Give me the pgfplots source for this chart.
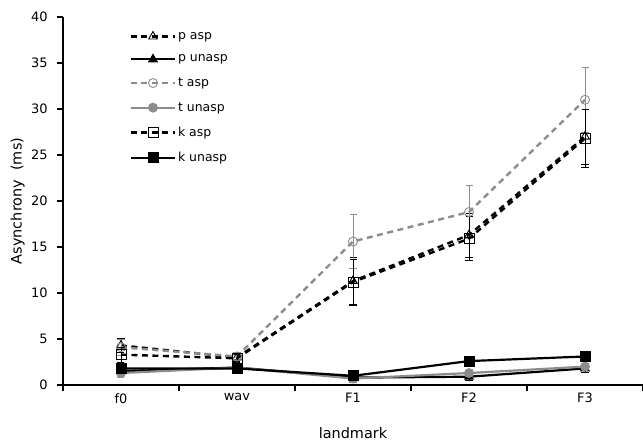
\documentclass[border=0pt]{standalone}
\usepackage{pgfplots}
\pgfplotsset{compat=1.18}
\usepackage{fontspec}
\setmainfont{DejaVu Sans}
\definecolor{mygray}{gray}{0.55}
\begin{document}
\fontsize{12.5}{15}\selectfont
\begin{tikzpicture}
\begin{axis}[
  scale only axis,
  width=580bp, height=368bp,
  xmin=-0.5, xmax=4.5,
  ymin=0, ymax=40,
  axis lines=left,
  axis line style={line width=1.6pt, -},
  xtick={-0.5,0.5,1.5,2.5,3.5,4.5},
  xticklabels={},
  extra x ticks={0,1,2,3,4},
  extra x tick labels={f0,wav,F1,F2,F3},
  extra x tick style={major tick length=0pt, tick style={draw=none}},
  ytick={0,5,...,40},
  tick align=outside,
  major tick length=6bp,
  tick style={line width=1.2pt, black},
  /pgf/number format/assume math mode=true,
  tick label style={font=\fontsize{13}{15}\selectfont},
  xticklabel style={yshift=-4bp},
  yticklabel style={xshift=-5bp},
  xlabel={landmark},
  ylabel={Asynchrony\ \ (ms)},
  label style={font=\fontsize{14.5}{17}\selectfont},
  xlabel style={yshift=-10bp},
  ylabel style={yshift=-2bp},
  legend style={draw=none, fill=none, at={(0.115,0.965)}, anchor=north west,
    font=\fontsize{12.5}{15}\selectfont, row sep=10bp, inner sep=0pt},
  legend cell align=left,
  legend image code/.code={
    \draw[#1, line width=2.2pt, mark repeat=2, mark phase=2] plot coordinates {(0bp,0bp)(22bp,0bp)(44bp,0bp)};
  },
  error bars/y dir=both,
  error bars/y explicit,
  error bars/error bar style={line width=0.8pt, solid},
  error bars/error mark options={rotate=90, mark size=3.5bp, line width=0.8pt},
]
% p asp
\addplot[black, line width=2.4pt, dash pattern=on 6bp off 4.5bp, mark=triangle, mark size=5bp,
  mark options={solid, fill=white, line width=0.9pt}]
  coordinates {(0,4.3) +- (0,0.8) (1,3.0) +- (0,0.4) (2,11.3) +- (0,2.6) (3,16.3) +- (0,2.4) (4,27.0) +- (0,3.0)};
\addlegendentry{p asp}
% p unasp
\addplot[black, line width=2.2pt, mark=triangle*, mark size=5bp,
  mark options={solid, fill=black, line width=0.9pt}]
  coordinates {(0,1.5) +- (0,0.5) (1,1.9) +- (0,0.4) (2,0.8) +- (0,0.4) (3,0.9) +- (0,0.4) (4,1.8) +- (0,0.4)};
\addlegendentry{p unasp}
% t asp
\addplot[mygray, line width=2.4pt, dash pattern=on 6bp off 4.5bp, mark=o, mark size=4.5bp,
  mark options={solid, fill=white, line width=0.9pt}]
  coordinates {(0,4.1) +- (0,0.9) (1,3.1) +- (0,0.4) (2,15.6) +- (0,2.9) (3,18.8) +- (0,2.9) (4,31.0) +- (0,3.5)};
\addlegendentry{t asp}
% t unasp
\addplot[mygray, line width=2.2pt, mark=*, mark size=4.5bp,
  mark options={solid, fill=mygray, line width=0.9pt}]
  coordinates {(0,1.3) +- (0,0.5) (1,1.9) +- (0,0.4) (2,0.7) +- (0,0.4) (3,1.3) +- (0,0.4) (4,2.0) +- (0,0.4)};
\addlegendentry{t unasp}
% k asp
\addplot[black, line width=2.4pt, dash pattern=on 6bp off 4.5bp, mark=square, mark size=5bp,
  mark options={solid, fill=white, fill opacity=0, line width=0.9pt}]
  coordinates {(0,3.3) +- (0,0.8) (1,2.9) +- (0,0.4) (2,11.2) +- (0,2.4) (3,15.9) +- (0,2.4) (4,26.8) +- (0,3.2)};
\addlegendentry{k asp}
% k unasp
\addplot[black, line width=2.2pt, mark=square*, mark size=5bp,
  mark options={solid, fill=black, line width=0.9pt}]
  coordinates {(0,1.8) +- (0,0.5) (1,1.8) +- (0,0.4) (2,1.0) +- (0,0.4) (3,2.6) +- (0,0.4) (4,3.1) +- (0,0.4)};
\addlegendentry{k unasp}
\end{axis}
\pgfresetboundingbox
\path[use as bounding box] (current axis.south west) ++(-63bp,-59bp) rectangle ++(643bp,444bp);
\end{tikzpicture}
\end{document}
